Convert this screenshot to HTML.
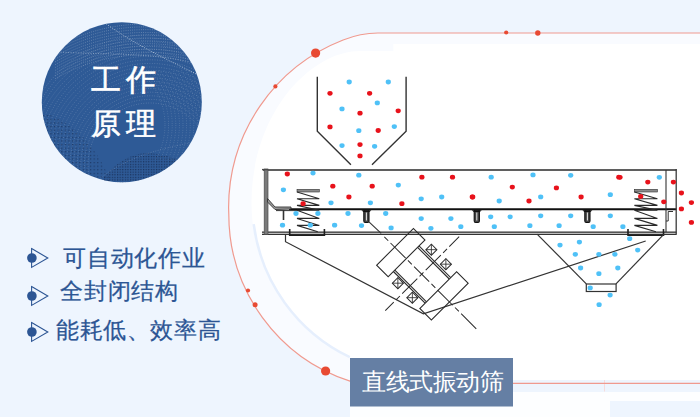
<!DOCTYPE html>
<html><head><meta charset="utf-8"><style>
*{margin:0;padding:0;box-sizing:border-box}
html,body{width:700px;height:417px;overflow:hidden;background:#eef5fe;font-family:"Liberation Sans",sans-serif}
.t{position:absolute;white-space:nowrap;line-height:1}
</style></head><body>

<svg width="700" height="417" style="position:absolute;left:0;top:0">
<defs>
<clipPath id="cc"><circle cx="121.8" cy="102.2" r="80"/></clipPath><clipPath id="cr"><rect x="150" y="70" width="60" height="90"/></clipPath>
<pattern id="dk" width="2.6" height="2.6" patternUnits="userSpaceOnUse"><rect x="0" y="0" width="1.2" height="1.2" fill="#14264a"/></pattern>
<pattern id="dk2" width="3.6" height="3.6" patternUnits="userSpaceOnUse"><rect x="0" y="0" width="1.2" height="1.2" fill="#14264a"/></pattern>
</defs>
<circle cx="121.8" cy="102.2" r="80" fill="#2e5a96"/>
<g clip-path="url(#cc)">
<circle cx="150" cy="165" r="62.0" fill="none" stroke="#9fb3d0" stroke-width="0.8" stroke-dasharray="0.8 1.7" opacity="0.5"/><circle cx="150" cy="165" r="65.6" fill="none" stroke="#9fb3d0" stroke-width="0.8" stroke-dasharray="0.8 1.7" opacity="0.5"/><circle cx="150" cy="165" r="69.2" fill="none" stroke="#9fb3d0" stroke-width="0.8" stroke-dasharray="0.8 1.7" opacity="0.5"/><circle cx="150" cy="165" r="72.8" fill="none" stroke="#9fb3d0" stroke-width="0.8" stroke-dasharray="0.8 1.7" opacity="0.5"/><circle cx="150" cy="165" r="76.4" fill="none" stroke="#9fb3d0" stroke-width="0.8" stroke-dasharray="0.8 1.7" opacity="0.5"/><circle cx="150" cy="165" r="80.0" fill="none" stroke="#9fb3d0" stroke-width="0.8" stroke-dasharray="0.8 1.7" opacity="0.5"/><circle cx="150" cy="165" r="83.6" fill="none" stroke="#9fb3d0" stroke-width="0.8" stroke-dasharray="0.8 1.7" opacity="0.5"/><circle cx="150" cy="165" r="87.2" fill="none" stroke="#9fb3d0" stroke-width="0.8" stroke-dasharray="0.8 1.7" opacity="0.5"/><circle cx="150" cy="165" r="90.8" fill="none" stroke="#9fb3d0" stroke-width="0.8" stroke-dasharray="0.8 1.7" opacity="0.5"/><circle cx="150" cy="165" r="94.4" fill="none" stroke="#9fb3d0" stroke-width="0.8" stroke-dasharray="0.8 1.7" opacity="0.5"/><circle cx="150" cy="165" r="98.0" fill="none" stroke="#9fb3d0" stroke-width="0.8" stroke-dasharray="0.8 1.7" opacity="0.5"/><circle cx="150" cy="165" r="101.6" fill="none" stroke="#9fb3d0" stroke-width="0.8" stroke-dasharray="0.8 1.7" opacity="0.5"/><circle cx="150" cy="165" r="105.2" fill="none" stroke="#9fb3d0" stroke-width="0.8" stroke-dasharray="0.8 1.7" opacity="0.5"/><circle cx="150" cy="165" r="108.80000000000001" fill="none" stroke="#9fb3d0" stroke-width="0.8" stroke-dasharray="0.8 1.7" opacity="0.5"/><circle cx="150" cy="165" r="112.4" fill="none" stroke="#9fb3d0" stroke-width="0.8" stroke-dasharray="0.8 1.7" opacity="0.5"/><circle cx="150" cy="165" r="116.0" fill="none" stroke="#9fb3d0" stroke-width="0.8" stroke-dasharray="0.8 1.7" opacity="0.5"/><circle cx="150" cy="165" r="119.6" fill="none" stroke="#9fb3d0" stroke-width="0.8" stroke-dasharray="0.8 1.7" opacity="0.5"/><circle cx="150" cy="165" r="123.2" fill="none" stroke="#9fb3d0" stroke-width="0.8" stroke-dasharray="0.8 1.7" opacity="0.5"/><circle cx="150" cy="165" r="126.8" fill="none" stroke="#9fb3d0" stroke-width="0.8" stroke-dasharray="0.8 1.7" opacity="0.5"/><circle cx="150" cy="165" r="130.4" fill="none" stroke="#9fb3d0" stroke-width="0.8" stroke-dasharray="0.8 1.7" opacity="0.5"/><g clip-path="url(#cr)"><circle cx="95" cy="125" r="70.0" fill="none" stroke="#9fb3d0" stroke-width="0.8" stroke-dasharray="0.8 1.7" opacity="0.45"/><circle cx="95" cy="125" r="73.6" fill="none" stroke="#9fb3d0" stroke-width="0.8" stroke-dasharray="0.8 1.7" opacity="0.45"/><circle cx="95" cy="125" r="77.2" fill="none" stroke="#9fb3d0" stroke-width="0.8" stroke-dasharray="0.8 1.7" opacity="0.45"/><circle cx="95" cy="125" r="80.8" fill="none" stroke="#9fb3d0" stroke-width="0.8" stroke-dasharray="0.8 1.7" opacity="0.45"/><circle cx="95" cy="125" r="84.4" fill="none" stroke="#9fb3d0" stroke-width="0.8" stroke-dasharray="0.8 1.7" opacity="0.45"/><circle cx="95" cy="125" r="88.0" fill="none" stroke="#9fb3d0" stroke-width="0.8" stroke-dasharray="0.8 1.7" opacity="0.45"/><circle cx="95" cy="125" r="91.6" fill="none" stroke="#9fb3d0" stroke-width="0.8" stroke-dasharray="0.8 1.7" opacity="0.45"/><circle cx="95" cy="125" r="95.2" fill="none" stroke="#9fb3d0" stroke-width="0.8" stroke-dasharray="0.8 1.7" opacity="0.45"/><circle cx="95" cy="125" r="98.8" fill="none" stroke="#9fb3d0" stroke-width="0.8" stroke-dasharray="0.8 1.7" opacity="0.45"/><circle cx="95" cy="125" r="102.4" fill="none" stroke="#9fb3d0" stroke-width="0.8" stroke-dasharray="0.8 1.7" opacity="0.45"/><circle cx="95" cy="125" r="106.0" fill="none" stroke="#9fb3d0" stroke-width="0.8" stroke-dasharray="0.8 1.7" opacity="0.45"/><circle cx="95" cy="125" r="109.6" fill="none" stroke="#9fb3d0" stroke-width="0.8" stroke-dasharray="0.8 1.7" opacity="0.45"/></g><path d="M55,48.0 C100,22.0 150,18.0 205,32.0" fill="none" stroke="#b4c3d9" stroke-width="0.8" stroke-dasharray="0.8 1.4" opacity="0.55"/><path d="M55,50.8 C100,24.8 150,20.8 205,34.8" fill="none" stroke="#b4c3d9" stroke-width="0.8" stroke-dasharray="0.8 1.4" opacity="0.55"/><path d="M55,53.6 C100,27.6 150,23.6 205,37.6" fill="none" stroke="#b4c3d9" stroke-width="0.8" stroke-dasharray="0.8 1.4" opacity="0.55"/><path d="M55,56.4 C100,30.4 150,26.4 205,40.4" fill="none" stroke="#b4c3d9" stroke-width="0.8" stroke-dasharray="0.8 1.4" opacity="0.55"/><path d="M55,59.2 C100,33.2 150,29.200000000000003 205,43.2" fill="none" stroke="#b4c3d9" stroke-width="0.8" stroke-dasharray="0.8 1.4" opacity="0.55"/><path d="M55,62.0 C100,36.0 150,32.0 205,46.0" fill="none" stroke="#b4c3d9" stroke-width="0.8" stroke-dasharray="0.8 1.4" opacity="0.55"/><path d="M55,64.8 C100,38.8 150,34.8 205,48.8" fill="none" stroke="#b4c3d9" stroke-width="0.8" stroke-dasharray="0.8 1.4" opacity="0.55"/><path d="M55,67.6 C100,41.599999999999994 150,37.599999999999994 205,51.599999999999994" fill="none" stroke="#b4c3d9" stroke-width="0.8" stroke-dasharray="0.8 1.4" opacity="0.55"/><path d="M55,70.4 C100,44.4 150,40.4 205,54.4" fill="none" stroke="#b4c3d9" stroke-width="0.8" stroke-dasharray="0.8 1.4" opacity="0.55"/><path d="M55,73.2 C100,47.2 150,43.2 205,57.2" fill="none" stroke="#b4c3d9" stroke-width="0.8" stroke-dasharray="0.8 1.4" opacity="0.55"/><path d="M55,76.0 C100,50.0 150,46.0 205,60.0" fill="none" stroke="#b4c3d9" stroke-width="0.8" stroke-dasharray="0.8 1.4" opacity="0.55"/><path d="M55,78.8 C100,52.8 150,48.8 205,62.8" fill="none" stroke="#b4c3d9" stroke-width="0.8" stroke-dasharray="0.8 1.4" opacity="0.55"/>
<path d="M98,18 C125,38 150,52 205,78" fill="none" stroke="#d6dfeb" stroke-width="1" stroke-dasharray="1 1.5" opacity="0.7"/>
<path d="M58,52 C110,55 160,52 205,66" fill="none" stroke="#c9d5e6" stroke-width="1" stroke-dasharray="1 1.5" opacity="0.5"/>
<path d="M40,112 C75,120 100,150 114,190 L40,190 Z" fill="url(#dk2)" opacity="0.6"/>
<path d="M95,190 C108,168 128,152 150,153 C172,155 188,163 205,172 L205,190 Z" fill="url(#dk)" opacity="0.75"/>
<path d="M92,185 C120,160 150,150 205,140" fill="none" stroke="#8aa0c0" stroke-width="0.8" stroke-dasharray="1 1.5" opacity="0.5"/>
</g>
</svg>
<div class="t" style="left:91px;top:65px;font-size:30px;color:#fff;letter-spacing:4.5px;-webkit-text-stroke:0.6px #fff">工作</div>
<div class="t" style="left:91px;top:108.5px;font-size:30px;color:#fff;letter-spacing:4.5px;-webkit-text-stroke:0.6px #fff">原理</div>
<svg width="24" height="24" style="position:absolute;left:26px;top:245.8px" viewBox="26 245.8 24 24">
<path d="M31.6,248.4 L47.8,257.8 L31.6,267.2 Z" fill="none" stroke="#2c5594" stroke-width="1.1" stroke-linejoin="miter"/>
<circle cx="31.9" cy="257.8" r="4.8" fill="#2c5594"/></svg><svg width="24" height="24" style="position:absolute;left:26px;top:283.8px" viewBox="26 283.8 24 24">
<path d="M31.6,286.40000000000003 L47.8,295.8 L31.6,305.2 Z" fill="none" stroke="#2c5594" stroke-width="1.1" stroke-linejoin="miter"/>
<circle cx="31.9" cy="295.8" r="4.8" fill="#2c5594"/></svg><svg width="24" height="24" style="position:absolute;left:26px;top:319.8px" viewBox="26 319.8 24 24">
<path d="M31.6,322.40000000000003 L47.8,331.8 L31.6,341.2 Z" fill="none" stroke="#2c5594" stroke-width="1.1" stroke-linejoin="miter"/>
<circle cx="31.9" cy="331.8" r="4.8" fill="#2c5594"/></svg>
<div class="t" style="left:63px;top:246.5px;font-size:23px;color:#2c5594;letter-spacing:0.83px;-webkit-text-stroke:0.25px #2c5594">可自动化作业</div>
<div class="t" style="left:60px;top:280px;font-size:23px;color:#2c5594;letter-spacing:0.83px;-webkit-text-stroke:0.25px #2c5594">全封闭结构</div>
<div class="t" style="left:56px;top:318.5px;font-size:23px;color:#2c5594;letter-spacing:0.6px;-webkit-text-stroke:0.25px #2c5594">能耗低、效率高</div>
<svg width="700" height="417" style="position:absolute;left:0;top:0">
<path d="M700,33.0 L377.9,33.0 Q360.5,33.0 343.1,40 A179.9,179.9 0 0 0 228.6,207.6 L228.8,214.1 A175.6,175.6 0 0 0 350,381.1 L513,383.4 L700,383.4 Z" fill="#f9fbff"/>
<rect x="350" y="392" width="350" height="25" fill="#fdfeff"/>
<rect x="610" y="401" width="90" height="16" fill="#eef5fe"/>
<rect x="513" y="380" width="187" height="12" fill="#eef5fe"/>
<path d="M700,44 L393.3,44 L393.3,51 L360,51 C311.5,51 251.5,112.2 251.5,203.3 A171.3,171.3 0 0 0 349,357.9 L349,358 L513,358 L513,380 L700,380 Z" fill="#fff"/>
<path d="M252.9,225 A171.3,171.3 0 0 0 349,357.9" fill="none" stroke="#e6effd" stroke-width="2.5" transform="translate(0.8,-0.8)"/>

<g fill="none" stroke="#333" stroke-width="1.4">
<polyline points="317.3,76.7 317.3,131.2 350.9,164.8"/>
<polyline points="406.1,76.7 406.1,131.2 372,164.8"/>
</g>
<g>
<line x1="263" y1="170" x2="676.5" y2="170" stroke="#5f5f5f" stroke-width="2.1"/>
<rect x="262" y="231" width="414.5" height="4" fill="#bdbdbd"/>
<line x1="262" y1="232.3" x2="676.5" y2="232.3" stroke="#333" stroke-width="1.1"/>
<line x1="262" y1="234.5" x2="676.5" y2="234.5" stroke="#333" stroke-width="1.1"/>
<rect x="264.2" y="169" width="3.8" height="65.5" fill="#7a7a7a" stroke="#4a4a4a" stroke-width="0.7"/><line x1="262" y1="169.6" x2="268" y2="169.6" stroke="#4a4a4a" stroke-width="1.4"/>
<line x1="289" y1="209.2" x2="676.5" y2="209.2" stroke="#111" stroke-width="1.9"/>
<line x1="676.2" y1="169" x2="676.2" y2="234.5" stroke="#3a3a3a" stroke-width="1.3"/>
<line x1="666" y1="170" x2="666" y2="232" stroke="#333" stroke-width="1.1"/>
<path d="M666,221 L668.2,221 L668.2,211.5 L673,211.5" fill="none" stroke="#333" stroke-width="1"/>
<polygon points="267.5,198.5 275,207 291,207 291,209 275,209.5 267.5,202" fill="#9a9a9a" stroke="#333" stroke-width="0.9"/>
<line x1="276" y1="210.6" x2="298" y2="210.6" stroke="#333" stroke-width="1"/>
<line x1="283.5" y1="210" x2="283.5" y2="220" stroke="#333" stroke-width="1.6"/>
<rect x="297" y="189.3" width="22.30000000000001" height="2.7" fill="#8a8a8a" stroke="#333" stroke-width="0.6"/><polyline points="297,192 319.3,198.7 297,198.7 319.3,205.4 297,205.4 319.3,210.3 297,210.3 319.3,218.4 297,218.4 319.3,225.4 297,225.4 317.8,231.8" fill="none" stroke="#2a2a2a" stroke-width="1.1"/>
<rect x="634.4" y="189.3" width="23.0" height="2.7" fill="#8a8a8a" stroke="#333" stroke-width="0.6"/><polyline points="634.4,192 657.4,198.7 634.4,198.7 657.4,205.4 634.4,205.4 657.4,210.3 634.4,210.3 657.4,218.4 634.4,218.4 657.4,225.4 634.4,225.4 655.9,231.8" fill="none" stroke="#2a2a2a" stroke-width="1.1"/>
<polyline points="289.7,229 289.7,235.2 324.4,235.2 324.4,229" fill="none" stroke="#1e1e1e" stroke-width="1.6"/>
<polyline points="628,229 628,235.2 663.5,235.2 663.5,229" fill="none" stroke="#1e1e1e" stroke-width="1.6"/>
<rect x="363.79999999999995" y="209.5" width="5.2" height="13" rx="1.5" fill="#444" stroke="#111" stroke-width="1.1"/><path d="M361.4,210.2 L371.4,210.2 L369.4,212 L363.4,212 Z" fill="#111"/><line x1="366.4" y1="212.5" x2="366.4" y2="220.5" stroke="#e8e8e8" stroke-width="1"/><rect x="474.2" y="209.5" width="5.2" height="13" rx="1.5" fill="#444" stroke="#111" stroke-width="1.1"/><path d="M471.8,210.2 L481.8,210.2 L479.8,212 L473.8,212 Z" fill="#111"/><line x1="476.8" y1="212.5" x2="476.8" y2="220.5" stroke="#e8e8e8" stroke-width="1"/><rect x="584.8" y="209.5" width="5.2" height="13" rx="1.5" fill="#444" stroke="#111" stroke-width="1.1"/><path d="M582.4,210.2 L592.4,210.2 L590.4,212 L584.4,212 Z" fill="#111"/><line x1="587.4" y1="212.5" x2="587.4" y2="220.5" stroke="#e8e8e8" stroke-width="1"/>
<line x1="368.7" y1="221.6" x2="381.2" y2="233.3" stroke="#333" stroke-width="1.1"/>
<polyline points="285.5,234.5 285.5,241.7 423.4,313.8 645.7,241" fill="none" stroke="#333" stroke-width="1.2"/>
<polyline points="537.1,234.1 586.3,283.8" fill="none" stroke="#333" stroke-width="1.2"/>
<polyline points="664,234.1 616,283.8" fill="none" stroke="#333" stroke-width="1.2"/>
<rect x="586.3" y="284" width="29.8" height="7.5" fill="none" stroke="#333" stroke-width="1.2"/>
<g transform="translate(422.4,274.2) rotate(45)" fill="none" stroke="#2a2a2a" stroke-width="1.1"><rect x="-38.7" y="-26" width="16.3" height="52"/><rect x="22.4" y="-26" width="16.3" height="52"/><line x1="-22.4" y1="-17.6" x2="22.4" y2="-17.6"/><line x1="-22.4" y1="-15.6" x2="22.4" y2="-15.6"/><line x1="-22.4" y1="16.6" x2="22.4" y2="16.6"/><line x1="-22.4" y1="18.6" x2="22.4" y2="18.6"/><rect x="-14.9" y="-27.599999999999998" width="7.8" height="7.8" stroke-width="1"/><path d="M-14.9,-27.599999999999998L-7.1,-19.8M-7.1,-27.599999999999998L-14.9,-19.8" stroke-width="0.8"/><rect x="-14.9" y="19.8" width="7.8" height="7.8" stroke-width="1"/><path d="M-14.9,19.8L-7.1,27.599999999999998M-7.1,19.8L-14.9,27.599999999999998" stroke-width="0.8"/><rect x="5.6" y="-27.599999999999998" width="7.8" height="7.8" stroke-width="1"/><path d="M5.6,-27.599999999999998L13.4,-19.8M13.4,-27.599999999999998L5.6,-19.8" stroke-width="0.8"/><rect x="5.6" y="19.8" width="7.8" height="7.8" stroke-width="1"/><path d="M5.6,19.8L13.4,27.599999999999998M13.4,19.8L5.6,27.599999999999998" stroke-width="0.8"/><line x1="-53.3" y1="0.5" x2="78.6" y2="0.5" stroke-dasharray="5.5 3.2 21.4 3.2" stroke-width="1"/><line x1="-0.5" y1="-52.5" x2="-0.5" y2="52" stroke-dasharray="21.4 3.2 5.5 3.2" stroke-dashoffset="7.4" stroke-width="1"/></g>
</g>
<ellipse cx="349.2" cy="82" rx="2.6" ry="2.4" fill="#4fc1f7"/><ellipse cx="388.3" cy="82" rx="2.6" ry="2.4" fill="#4fc1f7"/><ellipse cx="377.3" cy="102.9" rx="2.6" ry="2.4" fill="#4fc1f7"/><ellipse cx="342" cy="108.9" rx="2.6" ry="2.4" fill="#4fc1f7"/><ellipse cx="358.8" cy="130.7" rx="2.6" ry="2.4" fill="#4fc1f7"/><ellipse cx="394.3" cy="126.6" rx="2.6" ry="2.4" fill="#4fc1f7"/><ellipse cx="342" cy="145.6" rx="2.6" ry="2.4" fill="#4fc1f7"/><ellipse cx="374.6" cy="146.3" rx="2.6" ry="2.4" fill="#4fc1f7"/><ellipse cx="330" cy="93.3" rx="2.6" ry="2.4" fill="#e8121b"/><ellipse cx="369.6" cy="93.3" rx="2.6" ry="2.4" fill="#e8121b"/><ellipse cx="360" cy="113.2" rx="2.6" ry="2.4" fill="#e8121b"/><ellipse cx="398.2" cy="110.8" rx="2.6" ry="2.4" fill="#e8121b"/><ellipse cx="330" cy="126.9" rx="2.6" ry="2.4" fill="#e8121b"/><ellipse cx="378.2" cy="130.5" rx="2.6" ry="2.4" fill="#e8121b"/><ellipse cx="360" cy="144.6" rx="2.6" ry="2.4" fill="#e8121b"/><ellipse cx="360" cy="155.9" rx="2.6" ry="2.4" fill="#e8121b"/>
<ellipse cx="313" cy="173.1" rx="2.6" ry="2.4" fill="#4fc1f7"/><ellipse cx="283.4" cy="189.8" rx="2.6" ry="2.4" fill="#4fc1f7"/><ellipse cx="331" cy="202.8" rx="2.6" ry="2.4" fill="#4fc1f7"/><ellipse cx="358.8" cy="175.2" rx="2.6" ry="2.4" fill="#4fc1f7"/><ellipse cx="398.3" cy="185.1" rx="2.6" ry="2.4" fill="#4fc1f7"/><ellipse cx="370.4" cy="202.8" rx="2.6" ry="2.4" fill="#4fc1f7"/><ellipse cx="421.2" cy="198.8" rx="2.6" ry="2.4" fill="#4fc1f7"/><ellipse cx="441.7" cy="197" rx="2.6" ry="2.4" fill="#4fc1f7"/><ellipse cx="491.2" cy="177.2" rx="2.6" ry="2.4" fill="#4fc1f7"/><ellipse cx="533" cy="174.9" rx="2.6" ry="2.4" fill="#4fc1f7"/><ellipse cx="499.2" cy="201" rx="2.6" ry="2.4" fill="#4fc1f7"/><ellipse cx="540.7" cy="196.9" rx="2.6" ry="2.4" fill="#4fc1f7"/><ellipse cx="570.7" cy="175.3" rx="2.6" ry="2.4" fill="#4fc1f7"/><ellipse cx="610.3" cy="194.7" rx="2.6" ry="2.4" fill="#4fc1f7"/><ellipse cx="659.3" cy="177.3" rx="2.6" ry="2.4" fill="#4fc1f7"/><ellipse cx="296" cy="213.5" rx="2.6" ry="2.4" fill="#4fc1f7"/><ellipse cx="317.9" cy="213.5" rx="2.6" ry="2.4" fill="#4fc1f7"/><ellipse cx="282.5" cy="225.2" rx="2.6" ry="2.4" fill="#4fc1f7"/><ellipse cx="310.3" cy="225.2" rx="2.6" ry="2.4" fill="#4fc1f7"/><ellipse cx="334.6" cy="225.2" rx="2.6" ry="2.4" fill="#4fc1f7"/><ellipse cx="348" cy="213.5" rx="2.6" ry="2.4" fill="#4fc1f7"/><ellipse cx="385.7" cy="213.5" rx="2.6" ry="2.4" fill="#4fc1f7"/><ellipse cx="361.5" cy="225.6" rx="2.6" ry="2.4" fill="#4fc1f7"/><ellipse cx="391.1" cy="227.9" rx="2.6" ry="2.4" fill="#4fc1f7"/><ellipse cx="421.2" cy="218.6" rx="2.6" ry="2.4" fill="#4fc1f7"/><ellipse cx="450.9" cy="218.6" rx="2.6" ry="2.4" fill="#4fc1f7"/><ellipse cx="430.9" cy="228.3" rx="2.6" ry="2.4" fill="#4fc1f7"/><ellipse cx="460.8" cy="226.7" rx="2.6" ry="2.4" fill="#4fc1f7"/><ellipse cx="490.7" cy="216.8" rx="2.6" ry="2.4" fill="#4fc1f7"/><ellipse cx="510.1" cy="216.8" rx="2.6" ry="2.4" fill="#4fc1f7"/><ellipse cx="540.7" cy="215.8" rx="2.6" ry="2.4" fill="#4fc1f7"/><ellipse cx="494.3" cy="226.7" rx="2.6" ry="2.4" fill="#4fc1f7"/><ellipse cx="529.9" cy="225.7" rx="2.6" ry="2.4" fill="#4fc1f7"/><ellipse cx="559.1" cy="225.7" rx="2.6" ry="2.4" fill="#4fc1f7"/><ellipse cx="570.7" cy="215.8" rx="2.6" ry="2.4" fill="#4fc1f7"/><ellipse cx="610.3" cy="215.8" rx="2.6" ry="2.4" fill="#4fc1f7"/><ellipse cx="593.2" cy="226.7" rx="2.6" ry="2.4" fill="#4fc1f7"/><ellipse cx="622.9" cy="226.7" rx="2.6" ry="2.4" fill="#4fc1f7"/><ellipse cx="629.7" cy="238.7" rx="2.6" ry="2.4" fill="#4fc1f7"/><ellipse cx="560" cy="245.1" rx="2.6" ry="2.4" fill="#4fc1f7"/><ellipse cx="579.4" cy="242.1" rx="2.6" ry="2.4" fill="#4fc1f7"/><ellipse cx="575.3" cy="254.3" rx="2.6" ry="2.4" fill="#4fc1f7"/><ellipse cx="598.9" cy="254.3" rx="2.6" ry="2.4" fill="#4fc1f7"/><ellipse cx="614.9" cy="254.3" rx="2.6" ry="2.4" fill="#4fc1f7"/><ellipse cx="637.7" cy="250.1" rx="2.6" ry="2.4" fill="#4fc1f7"/><ellipse cx="580.6" cy="268" rx="2.6" ry="2.4" fill="#4fc1f7"/><ellipse cx="617.8" cy="268" rx="2.6" ry="2.4" fill="#4fc1f7"/><ellipse cx="598.9" cy="273.7" rx="2.6" ry="2.4" fill="#4fc1f7"/><ellipse cx="590.2" cy="287.9" rx="2.6" ry="2.4" fill="#4fc1f7"/><ellipse cx="610.1" cy="295.1" rx="2.6" ry="2.4" fill="#4fc1f7"/><ellipse cx="599.1" cy="304.7" rx="2.6" ry="2.4" fill="#4fc1f7"/><ellipse cx="287.3" cy="174" rx="2.6" ry="2.4" fill="#e8121b"/><ellipse cx="332.8" cy="186.2" rx="2.6" ry="2.4" fill="#e8121b"/><ellipse cx="303.1" cy="203.7" rx="2.6" ry="2.4" fill="#e8121b"/><ellipse cx="372.2" cy="186.2" rx="2.6" ry="2.4" fill="#e8121b"/><ellipse cx="348.9" cy="197" rx="2.6" ry="2.4" fill="#e8121b"/><ellipse cx="401.9" cy="203.7" rx="2.6" ry="2.4" fill="#e8121b"/><ellipse cx="421.9" cy="177.2" rx="2.6" ry="2.4" fill="#e8121b"/><ellipse cx="452.5" cy="177.2" rx="2.6" ry="2.4" fill="#e8121b"/><ellipse cx="472.3" cy="197" rx="2.6" ry="2.4" fill="#e8121b"/><ellipse cx="512.3" cy="187.1" rx="2.6" ry="2.4" fill="#e8121b"/><ellipse cx="556.4" cy="187.9" rx="2.6" ry="2.4" fill="#e8121b"/><ellipse cx="472.7" cy="197" rx="2.6" ry="2.4" fill="#e8121b"/><ellipse cx="529" cy="201" rx="2.6" ry="2.4" fill="#e8121b"/><ellipse cx="618.8" cy="177.2" rx="2.6" ry="2.4" fill="#e8121b"/><ellipse cx="581.1" cy="197" rx="2.6" ry="2.4" fill="#e8121b"/><ellipse cx="647.8" cy="182.1" rx="2.6" ry="2.4" fill="#e8121b"/><ellipse cx="673.4" cy="182.1" rx="2.6" ry="2.4" fill="#e8121b"/><ellipse cx="640.7" cy="196.5" rx="2.6" ry="2.4" fill="#e8121b"/><ellipse cx="663.8" cy="201.8" rx="2.6" ry="2.4" fill="#e8121b"/><ellipse cx="620" cy="177.3" rx="2.6" ry="2.4" fill="#e8121b"/><ellipse cx="681.4" cy="193" rx="2.6" ry="2.4" fill="#e8121b"/><ellipse cx="691.4" cy="202.6" rx="2.6" ry="2.4" fill="#e8121b"/><ellipse cx="681.4" cy="208.9" rx="2.6" ry="2.4" fill="#e8121b"/><ellipse cx="691.4" cy="222.4" rx="2.6" ry="2.4" fill="#e8121b"/>

<line x1="604.5" y1="380" x2="604.5" y2="391.5" stroke="#f6d6d3" stroke-width="0.8"/>
<path d="M700,33.0 L377.9,33.0 Q360.5,33.0 343.1,40 A179.9,179.9 0 0 0 228.6,207.6 L228.8,214.1 A175.6,175.6 0 0 0 350,381.1 L513,383.4 L700,383.4" fill="none" stroke="#f09a8f" stroke-width="1.2"/>
<circle cx="315.6" cy="53.1" r="4.6" fill="#e84a33"/><circle cx="275.4" cy="86.4" r="2.1" fill="#e84a33"/><circle cx="506.2" cy="32.5" r="2.1" fill="#e84a33"/><circle cx="537.8" cy="33.0" r="2.7" fill="#e84a33"/><circle cx="248" cy="290.5" r="2.1" fill="#e84a33"/><circle cx="255.1" cy="304.7" r="2.5" fill="#e84a33"/><circle cx="325.6" cy="371" r="4.6" fill="#e84a33"/>
<rect x="350" y="358" width="163" height="48.5" fill="#657fa4"/>
</svg>
<div class="t" style="left:362px;top:370.5px;font-size:23.5px;font-weight:500;color:#fff;letter-spacing:-0.4px">直线式振动筛</div>
</body></html>
